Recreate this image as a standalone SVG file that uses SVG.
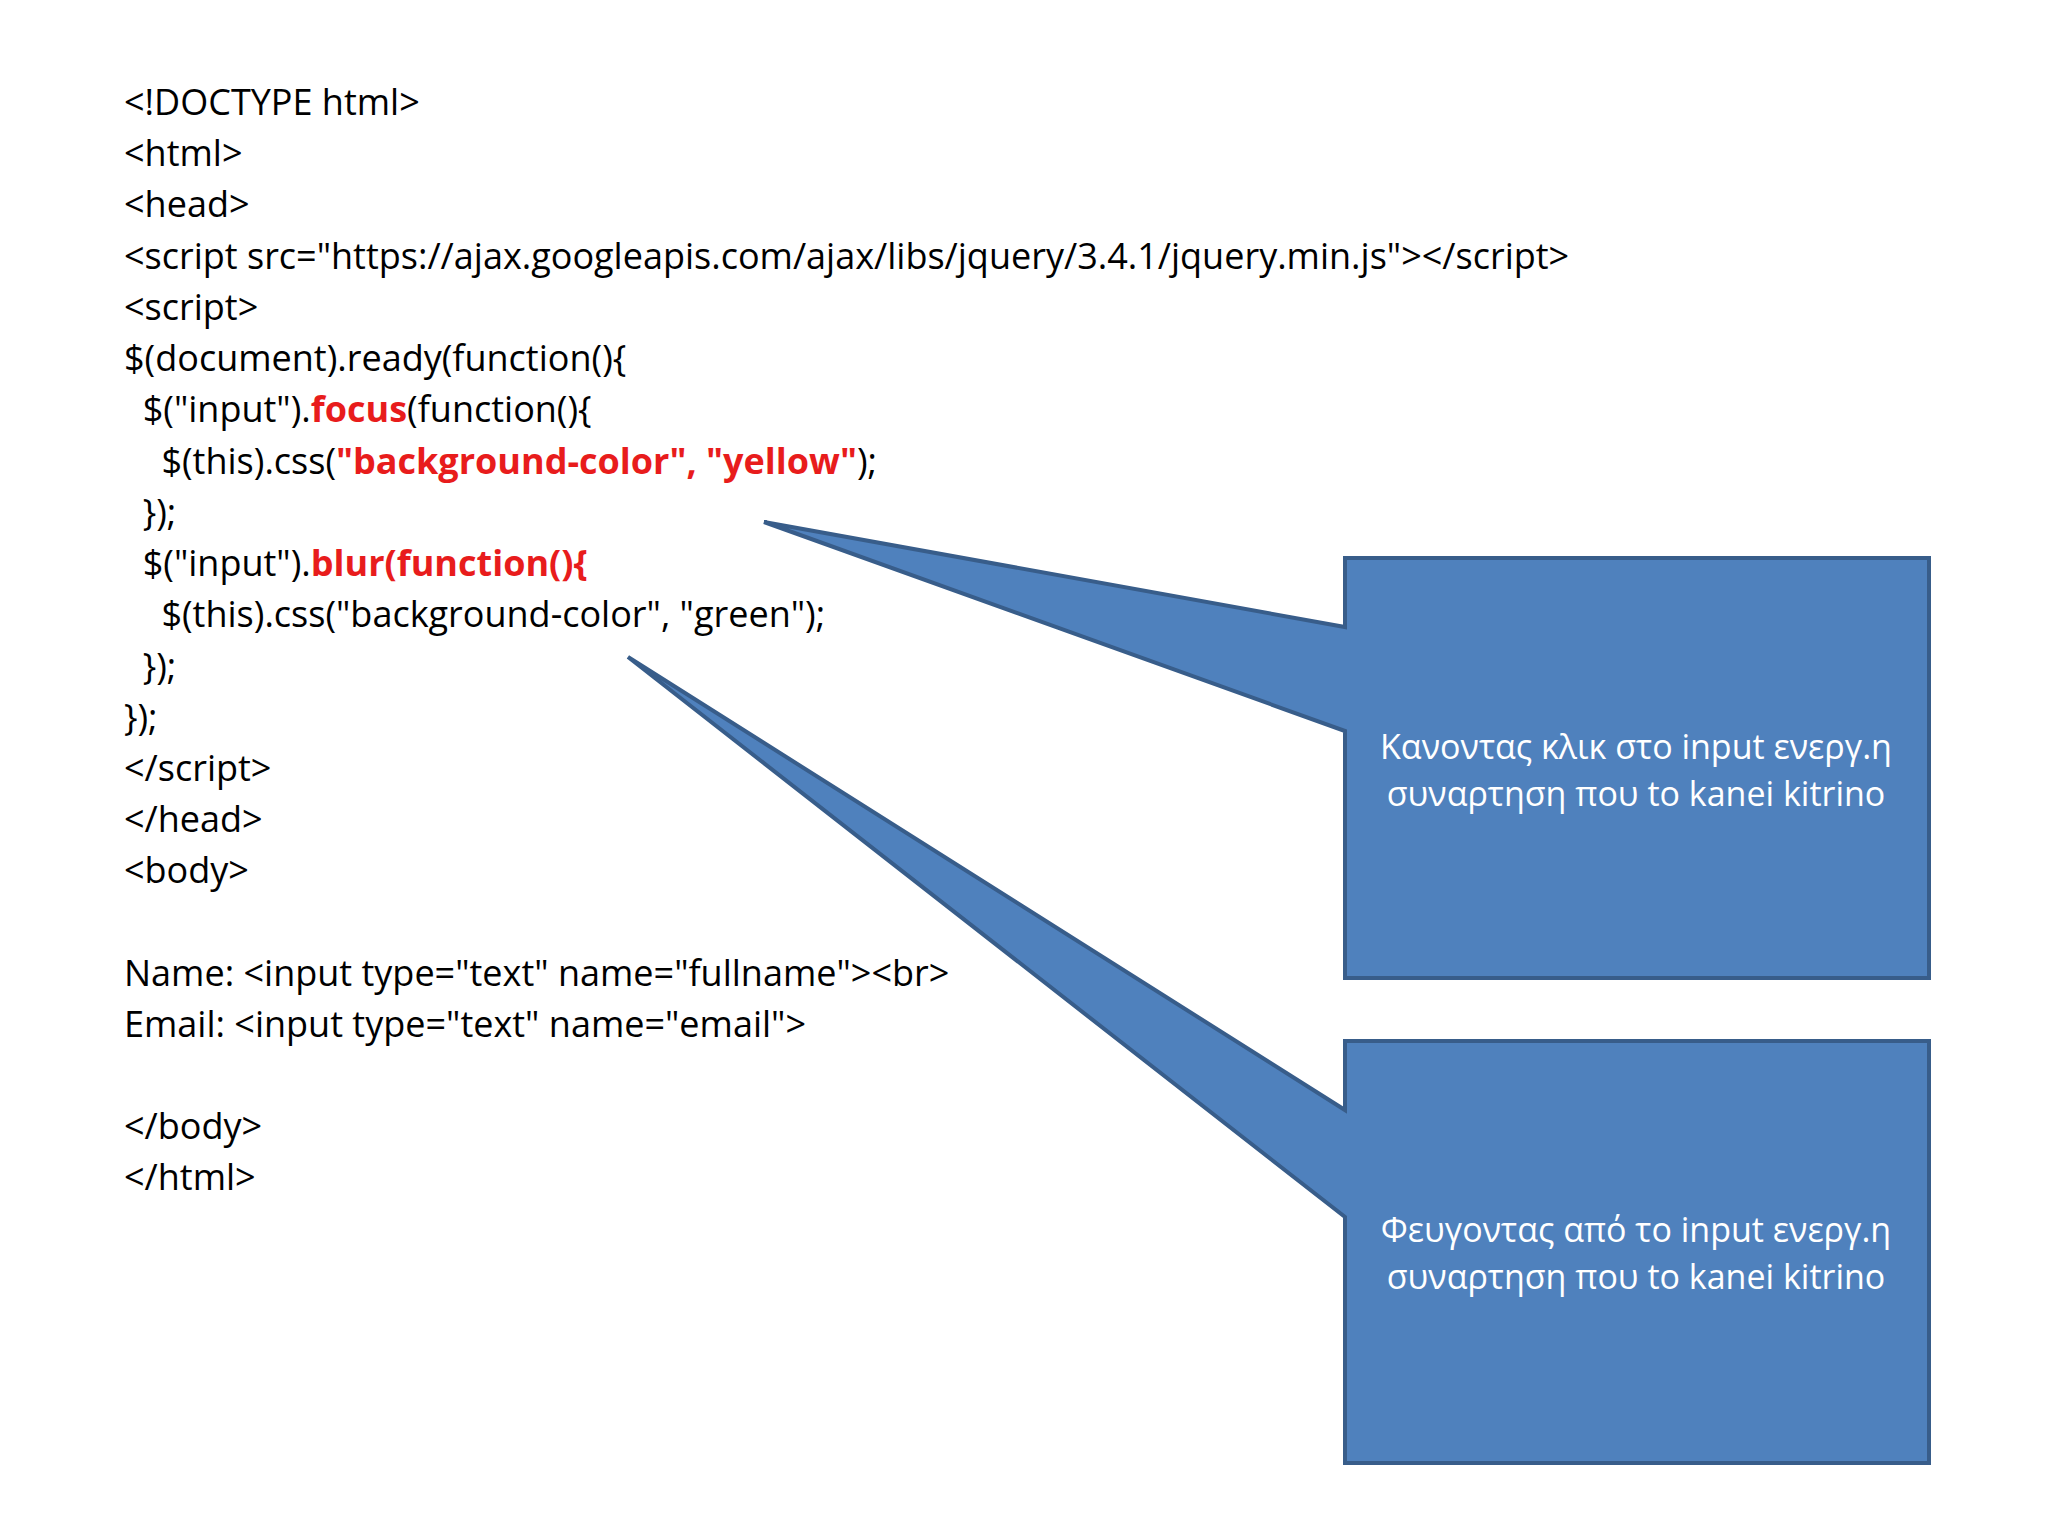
<svg xmlns="http://www.w3.org/2000/svg" width="2048" height="1536" viewBox="0 0 2048 1536">
<style>
.c{font-family:"Open Sans","Liberation Sans",sans-serif;font-size:36px;fill:#000}
.r{fill:#e81c1c;font-weight:bold}
.s{fill:#4F81BD;stroke:#385D8A;stroke-width:4;stroke-linejoin:miter}
.t{font-family:"Open Sans","Liberation Sans",sans-serif;font-size:34px;fill:#fff;text-anchor:middle}
</style>
<rect width="2048" height="1536" fill="#fff"/>
<g id="code" class="c">
<text x="124" y="115">&lt;!DOCTYPE html&gt;</text>
<text x="124" y="166">&lt;html&gt;</text>
<text x="124" y="217">&lt;head&gt;</text>
<text x="124" y="269">&lt;script src="https://ajax.googleapis.com/ajax/libs/jquery/3.4.1/jquery.min.js"&gt;&lt;/script&gt;</text>
<text x="124" y="320">&lt;script&gt;</text>
<text x="124" y="371">$(document).ready(function(){</text>
<text x="124" y="422" xml:space="preserve">  $("input").<tspan class="r">focus</tspan>(function(){</text>
<text x="124" y="474" xml:space="preserve">    $(this).css(<tspan class="r">"background-color", "yellow"</tspan>);</text>
<text x="124" y="525" xml:space="preserve">  });</text>
<text x="124" y="576" xml:space="preserve">  $("input").<tspan class="r">blur(function(){</tspan></text>
<text x="124" y="627" xml:space="preserve">    $(this).css("background-color", "green");</text>
<text x="124" y="679" xml:space="preserve">  });</text>
<text x="124" y="730">});</text>
<text x="124" y="781">&lt;/script&gt;</text>
<text x="124" y="832">&lt;/head&gt;</text>
<text x="124" y="883">&lt;body&gt;</text>
<text x="124" y="986">Name: &lt;input type="text" name="fullname"&gt;&lt;br&gt;</text>
<text x="124" y="1037">Email: &lt;input type="text" name="email"&gt;</text>
<text x="124" y="1139">&lt;/body&gt;</text>
<text x="124" y="1190">&lt;/html&gt;</text>
</g>
<g id="callout1">
<path class="s" d="M1345,558 H1929 V978 H1345 V731 L764,522 L1345,627 Z"/>
<text class="t" x="1636" y="759">Κανοντας κλικ στο input ενεργ.η</text>
<text class="t" x="1636" y="806">συναρτηση που to kanei kitrino</text>
</g>
<g id="callout2">
<path class="s" d="M1345,1041 H1929 V1463 H1345 V1217 L628,657 L1345,1110 Z"/>
<text class="t" x="1636" y="1242">Φευγοντας από το input ενεργ.η</text>
<text class="t" x="1636" y="1289">συναρτηση που to kanei kitrino</text>
</g>
</svg>
